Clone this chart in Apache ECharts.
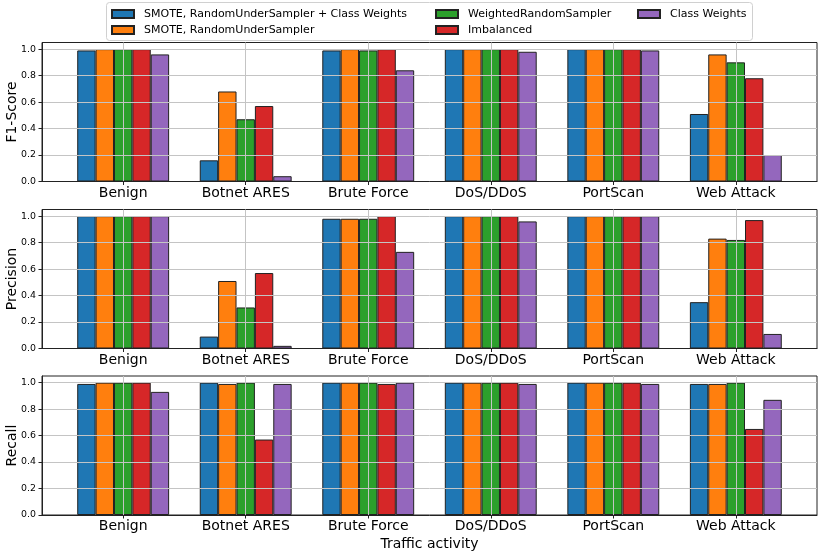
<!DOCTYPE html>
<html>
<head>
<meta charset="utf-8">
<script src="https://cdn.jsdelivr.net/npm/echarts@6/dist/echarts.min.js"></script>
<style>
html,body{margin:0;padding:0;background:#fff;}
#chart{width:822px;height:554px;}
</style>
</head>
<body>
<div id="chart"></div>
<script>
const categories = ['Benign', 'Botnet ARES', 'Brute Force', 'DoS/DDoS', 'PortScan', 'Web Attack'];
const seriesNames = ['SMOTE, RandomUnderSampler + Class Weights', 'SMOTE, RandomUnderSampler', 'WeightedRandomSampler', 'Imbalanced', 'Class Weights'];
const colors = ['#1f77b4', '#ff7f0e', '#2ca02c', '#d62728', '#9467bd'];
const metricNames = ['F1-Score', 'Precision', 'Recall'];
const yTicks = [0, 0.2, 0.4, 0.6, 0.8, 1.0];

// values per series, in category order
const f1SmoteRusCw   = [0.99, 0.16, 0.99, 1.00, 1.00, 0.51];
const f1SmoteRus     = [1.00, 0.68, 1.00, 1.00, 1.00, 0.96];
const f1Wrs          = [1.00, 0.47, 0.99, 1.00, 1.00, 0.90];
const f1Imbalanced   = [1.00, 0.57, 1.00, 1.00, 1.00, 0.78];
const f1ClassWeights = [0.96, 0.04, 0.84, 0.98, 0.99, 0.20];

const precSmoteRusCw   = [1.00, 0.09, 0.98, 1.00, 1.00, 0.35];
const precSmoteRus     = [1.00, 0.51, 0.98, 1.00, 1.00, 0.83];
const precWrs          = [1.00, 0.31, 0.98, 1.00, 1.00, 0.82];
const precImbalanced   = [1.00, 0.57, 1.00, 1.00, 1.00, 0.97];
const precClassWeights = [1.00, 0.02, 0.73, 0.96, 1.00, 0.11];

const recSmoteRusCw   = [0.99, 1.00, 1.00, 1.00, 1.00, 0.99];
const recSmoteRus     = [1.00, 0.99, 1.00, 1.00, 1.00, 0.99];
const recWrs          = [1.00, 1.00, 1.00, 1.00, 1.00, 1.00];
const recImbalanced   = [1.00, 0.57, 0.99, 1.00, 1.00, 0.65];
const recClassWeights = [0.93, 0.99, 1.00, 0.99, 0.99, 0.87];

const panels = [
  [f1SmoteRusCw, f1SmoteRus, f1Wrs, f1Imbalanced, f1ClassWeights],
  [precSmoteRusCw, precSmoteRus, precWrs, precImbalanced, precClassWeights],
  [recSmoteRusCw, recSmoteRus, recWrs, recImbalanced, recClassWeights]
];

const FONT = 'DejaVu Sans';
const gridTops = [42.5, 209.5, 376];
const catIdx = categories.map((c, i) => i);
const nCat = categories.length;
const groupHalf = 0.375, xMargin = 0.05 * (nCat - 1 + 2 * groupHalf);

const grids = gridTops.map(t => ({
  left: 42, right: 5, top: t, height: 139,
  outerBoundsMode: 'none', containLabel: false,
  show: true, borderColor: '#222', borderWidth: 1, backgroundColor: 'transparent'
}));

const xAxes = gridTops.map((t, gi) => ({
  type: 'value', gridIndex: gi, z: 5,
  min: -groupHalf - xMargin, max: nCat - 1 + groupHalf + xMargin,
  axisLine: { show: true, onZero: false, lineStyle: { color: '#222', width: 1 } },
  axisTick: { show: true, length: 3.5, lineStyle: { color: '#222' }, customValues: catIdx },
  axisLabel: { customValues: catIdx, formatter: v => categories[Math.round(v)] || '',
    fontFamily: FONT, fontSize: 14, color: '#000', margin: 4.5 },
  splitLine: { show: true, lineStyle: { color: '#c4c4c4', width: 1 } },
  name: gi === 2 ? 'Traffic activity' : '',
  nameLocation: 'middle', nameGap: 22, nameMoveOverlap: false,
  nameTextStyle: { fontFamily: FONT, fontSize: 14, color: '#000' }
}));

const yAxes = gridTops.map((t, gi) => ({
  type: 'value', gridIndex: gi, z: 5, min: 0, max: 1.05,
  axisLine: { show: true, onZero: false, lineStyle: { color: '#222', width: 1 } },
  axisTick: { show: true, length: 3.5, lineStyle: { color: '#222' }, customValues: yTicks },
  axisLabel: { customValues: yTicks, formatter: v => v.toFixed(1),
    fontFamily: FONT, fontSize: 9.4, color: '#000', margin: 6 },
  splitLine: { show: true, lineStyle: { color: '#c4c4c4', width: 1 } },
  name: metricNames[gi], nameLocation: 'middle', nameGap: 23, nameRotate: 90, nameMoveOverlap: false,
  nameTextStyle: { fontFamily: FONT, fontSize: 14, color: '#000' }
}));

const series = [];
panels.forEach((panel, gi) => {
  panel.forEach((vals, si) => {
    series.push({
      type: 'bar', name: seriesNames[si], xAxisIndex: gi, yAxisIndex: gi,
      data: vals.map((v, i) => [i, v]),
      barGap: '0%', barCategoryGap: '25%',
      itemStyle: { color: colors[si], borderColor: '#222', borderWidth: 1 },
      emphasis: { disabled: true }
    });
  });
});

const legendCols = [[0, 1], [2, 3], [4]];
const legendLefts = [111, 435, 637];
const legends = legendCols.map((idxs, li) => ({
  orient: 'vertical', left: legendLefts[li], top: 8, padding: 0,
  data: idxs.map(i => seriesNames[i]),
  icon: 'rect', itemWidth: 22, itemHeight: 8, itemGap: 4,
  textStyle: { fontFamily: FONT, fontSize: 11, color: '#000', lineHeight: 12, padding: [0, 0, 0, 5] },
  selectedMode: false
}));

const chart = echarts.init(document.getElementById('chart'), null, { renderer: 'canvas' });
chart.setOption({
  animation: false,
  backgroundColor: '#fff',
  graphic: [{
    type: 'rect', left: 106, top: 2, z: -1,
    shape: { width: 646, height: 38, r: 3 },
    style: { fill: '#fff', stroke: '#d0d0d0', lineWidth: 1 }
  }],
  legend: legends,
  grid: grids,
  xAxis: xAxes,
  yAxis: yAxes,
  series: series
});
</script>
</body>
</html>
